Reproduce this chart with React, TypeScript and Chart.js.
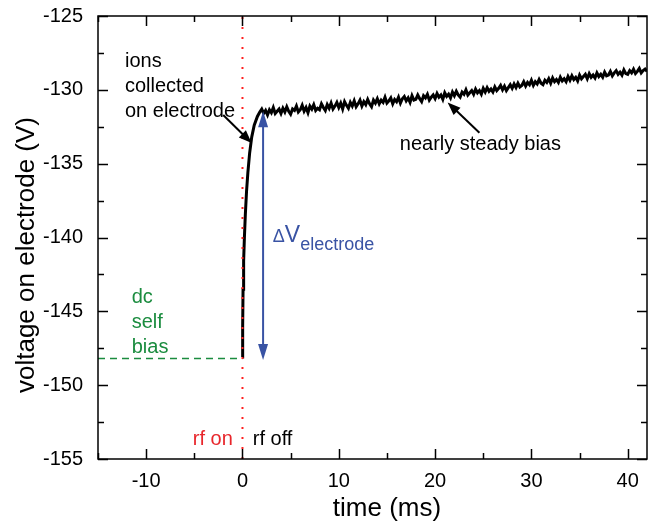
import { useEffect, useRef } from 'react';
import { Chart, registerables } from 'chart.js';

Chart.register(...registerables);

const FONT = '"Liberation Sans", Arial, Helvetica, sans-serif';

// Axis ranges and tick labels
const X_MIN = -15;
const X_MAX = 42;
const Y_MIN = -155;
const Y_MAX = -125;
const X_TICKS = [-10, 0, 10, 20, 30, 40];
const X_MINOR = [-15, -5, 5, 15, 25, 35];
const Y_TICKS = [-155, -150, -145, -140, -135, -130, -125];
const Y_MINOR = [-152.5, -147.5, -142.5, -137.5, -132.5, -127.5];

// Rising part right after rf off
const TIME_RISE = [0, 0.02, 0.06, 0.12, 0.2, 0.3, 0.42, 0.56, 0.74, 0.96, 1.22, 1.55, 1.8];
const VOLT_RISE = [-148.1, -146.0, -143.5, -141.6, -140.0, -138.4, -136.9, -135.6, -134.3, -133.2, -132.4, -131.8, -131.5];

// Nearly steady, noisy part
const TIME_STEADY = [
  2.0, 2.2, 2.4, 2.6, 2.8, 3.0, 3.2, 3.4, 3.6, 3.8,
  4.0, 4.2, 4.4, 4.6, 4.8, 5.0, 5.2, 5.4, 5.6, 5.8,
  6.0, 6.2, 6.4, 6.6, 6.8, 7.0, 7.2, 7.4, 7.6, 7.8,
  8.0, 8.2, 8.4, 8.6, 8.8, 9.0, 9.2, 9.4, 9.6, 9.8,
  10.0, 10.2, 10.4, 10.6, 10.8, 11.0, 11.2, 11.4, 11.6, 11.8,
  12.0, 12.2, 12.4, 12.6, 12.8, 13.0, 13.2, 13.4, 13.6, 13.8,
  14.0, 14.2, 14.4, 14.6, 14.8, 15.0, 15.2, 15.4, 15.6, 15.8,
  16.0, 16.2, 16.4, 16.6, 16.8, 17.0, 17.2, 17.4, 17.6, 17.8,
  18.0, 18.2, 18.4, 18.6, 18.8, 19.0, 19.2, 19.4, 19.6, 19.8,
  20.0, 20.2, 20.4, 20.6, 20.8, 21.0, 21.2, 21.4, 21.6, 21.8,
  22.0, 22.2, 22.4, 22.6, 22.8, 23.0, 23.2, 23.4, 23.6, 23.8,
  24.0, 24.2, 24.4, 24.6, 24.8, 25.0, 25.2, 25.4, 25.6, 25.8,
  26.0, 26.2, 26.4, 26.6, 26.8, 27.0, 27.2, 27.4, 27.6, 27.8,
  28.0, 28.2, 28.4, 28.6, 28.8, 29.0, 29.2, 29.4, 29.6, 29.8,
  30.0, 30.2, 30.4, 30.6, 30.8, 31.0, 31.2, 31.4, 31.6, 31.8,
  32.0, 32.2, 32.4, 32.6, 32.8, 33.0, 33.2, 33.4, 33.6, 33.8,
  34.0, 34.2, 34.4, 34.6, 34.8, 35.0, 35.2, 35.4, 35.6, 35.8,
  36.0, 36.2, 36.4, 36.6, 36.8, 37.0, 37.2, 37.4, 37.6, 37.8,
  38.0, 38.2, 38.4, 38.6, 38.8, 39.0, 39.2, 39.4, 39.6, 39.8,
  40.0, 40.2, 40.4, 40.6, 40.8, 41.0, 41.2, 41.4, 41.6, 41.8,
  42.0,
];
const VOLT_STEADY = [
  -131.3, -131.6, -131.4, -131.7, -131.35, -131.55, -131.2, -131.6, -131.45, -131.3,
  -131.6, -131.25, -131.5, -131.15, -131.45, -131.65, -131.3, -131.4, -131.1, -131.5,
  -131.35, -131.05, -131.45, -131.2, -131.55, -131.1, -131.3, -131.0, -131.4, -131.25,
  -131.35, -130.95, -131.2, -131.4, -131.0, -131.25, -130.9, -131.3, -131.1, -130.85,
  -131.2, -130.9, -131.3, -130.8, -131.05, -131.25, -130.85, -131.1, -130.75, -131.15,
  -130.95, -130.7, -131.1, -130.8, -131.0, -130.65, -130.95, -131.15, -130.7, -130.9,
  -130.6, -130.95, -130.7, -130.85, -130.5, -130.9, -130.75, -130.55, -130.95, -130.65,
  -130.8, -130.5, -130.9, -130.6, -130.45, -130.75, -130.55, -130.85, -130.4, -130.7,
  -130.65, -130.35, -130.6, -130.8, -130.4, -130.55, -130.3, -130.7, -130.5, -130.35,
  -130.6, -130.25, -130.5, -130.35, -130.65, -130.2, -130.45, -130.3, -130.55, -130.15,
  -130.4, -130.1, -130.35, -130.5, -130.15, -130.3, -130.0, -130.35, -130.2, -130.05,
  -130.3, -129.95, -130.2, -130.05, -130.3, -129.9, -130.15, -129.85, -130.1, -129.95,
  -130.15, -129.8, -130.05, -129.9, -129.7, -130.0, -129.75, -130.05, -129.85, -129.65,
  -129.9, -129.6, -129.85, -129.55, -129.8, -129.7, -129.45, -129.75, -129.5, -129.65,
  -129.35, -129.7, -129.45, -129.6, -129.3, -129.55, -129.65, -129.35, -129.5, -129.25,
  -129.55, -129.2, -129.45, -129.3, -129.5, -129.15, -129.4, -129.25, -129.45, -129.1,
  -129.35, -129.05, -129.3, -129.15, -129.4, -129.0, -129.25, -129.1, -128.95, -129.25,
  -128.9, -129.15, -129.0, -129.2, -128.85, -129.1, -128.95, -129.15, -128.8, -129.05,
  -129.0, -128.75, -129.05, -128.85, -128.7, -128.95, -128.8, -129.0, -128.65, -128.9,
  -128.95, -128.7, -128.85, -128.6, -128.9, -128.75, -128.55, -128.85, -128.7, -128.6,
  -128.75,
];

// dc self bias level and the rf switch time
const DC_BIAS = -148.2;
const RF_OFF_TIME = 0;
const DELTA_X = 2.14;
const DELTA_TOP = -131.45;
const DELTA_BOTTOM = -148.3;

const ALL_TIME = [...TIME_RISE, ...TIME_STEADY];
const ALL_VOLT = [...VOLT_RISE, ...VOLT_STEADY];
const traceData = ALL_TIME.map((t, i) => ({ x: t, y: ALL_VOLT[i] }));

function arrowHead(ctx: CanvasRenderingContext2D, x0: number, y0: number, x1: number, y1: number, len: number, half: number) {
  const ang = Math.atan2(y1 - y0, x1 - x0);
  ctx.beginPath();
  ctx.moveTo(x1, y1);
  ctx.lineTo(x1 - len * Math.cos(ang) + half * Math.sin(ang), y1 - len * Math.sin(ang) - half * Math.cos(ang));
  ctx.lineTo(x1 - len * Math.cos(ang) - half * Math.sin(ang), y1 - len * Math.sin(ang) + half * Math.cos(ang));
  ctx.closePath();
  ctx.fill();
}

const annotPlugin = {
  id: 'annot',
  afterDatasetsDraw(chart: any) {
    const { ctx, chartArea: a } = chart;
    const xs = chart.scales.x;
    const ys = chart.scales.y;
    const px = (v: number) => xs.getPixelForValue(v);
    const py = (v: number) => ys.getPixelForValue(v);
    ctx.save();

    // frame
    ctx.strokeStyle = '#000';
    ctx.lineWidth = 1.5;
    ctx.strokeRect(a.left, a.top, a.right - a.left, a.bottom - a.top);

    // inward ticks on all sides
    const major = 10;
    const minor = 6;
    ctx.lineWidth = 1.5;
    ctx.beginPath();
    const xt = (v: number, len: number) => {
      const p = Math.round(px(v)) + 0.5;
      ctx.moveTo(p, a.bottom);
      ctx.lineTo(p, a.bottom - len);
      ctx.moveTo(p, a.top);
      ctx.lineTo(p, a.top + len);
    };
    const yt = (v: number, len: number) => {
      const p = Math.round(py(v)) + 0.5;
      ctx.moveTo(a.left, p);
      ctx.lineTo(a.left + len, p);
      ctx.moveTo(a.right, p);
      ctx.lineTo(a.right - len, p);
    };
    X_TICKS.forEach((v) => xt(v, major));
    X_MINOR.forEach((v) => xt(v, minor));
    Y_TICKS.forEach((v) => yt(v, major));
    Y_MINOR.forEach((v) => yt(v, minor));
    ctx.stroke();

    // blue double arrow
    const bx = px(DELTA_X);
    const bt = py(DELTA_TOP);
    const bb = py(DELTA_BOTTOM);
    ctx.strokeStyle = '#3953a4';
    ctx.fillStyle = '#3953a4';
    ctx.lineWidth = 2;
    ctx.beginPath();
    ctx.moveTo(bx, bt + 10);
    ctx.lineTo(bx, bb - 10);
    ctx.stroke();
    arrowHead(ctx, bx, bb, bx, bt, 16, 5);
    arrowHead(ctx, bx, bt, bx, bb, 16, 5);

    // black annotation arrows
    ctx.strokeStyle = '#000';
    ctx.fillStyle = '#000';
    ctx.lineWidth = 2;
    const blackArrow = (x0: number, y0: number, x1: number, y1: number) => {
      const X0 = px(x0), Y0 = py(y0), X1 = px(x1), Y1 = py(y1);
      const ang = Math.atan2(Y1 - Y0, X1 - X0);
      ctx.beginPath();
      ctx.moveTo(X0, Y0);
      ctx.lineTo(X1 - 10 * Math.cos(ang), Y1 - 10 * Math.sin(ang));
      ctx.stroke();
      arrowHead(ctx, X0, Y0, X1, Y1, 13, 5);
    };
    blackArrow(-2.0, -131.7, 0.95, -133.6);
    blackArrow(24.6, -132.9, 21.3, -130.85);

    // texts
    ctx.textBaseline = 'alphabetic';
    ctx.textAlign = 'left';
    ctx.font = `20px ${FONT}`;
    ctx.fillStyle = '#000';
    ctx.fillText('ions', px(-12.2), py(-128.43));
    ctx.fillText('collected', px(-12.2), py(-130.13));
    ctx.fillText('on electrode', px(-12.2), py(-131.82));
    ctx.fillText('nearly steady bias', px(16.33), py(-134.07));
    ctx.fillText('rf off', px(1.07), py(-154.05));

    ctx.fillStyle = '#1b8c3f';
    ctx.fillText('dc', px(-11.5), py(-144.43));
    ctx.fillText('self', px(-11.5), py(-146.12));
    ctx.fillText('bias', px(-11.5), py(-147.82));

    ctx.fillStyle = '#e8262b';
    ctx.textAlign = 'right';
    ctx.fillText('rf on', px(-1.0), py(-154.05));

    ctx.textAlign = 'left';
    ctx.fillStyle = '#3953a4';
    const dx = px(3.15);
    const dy = py(-140.3);
    ctx.font = `18px ${FONT}`;
    ctx.fillText('\u0394', dx, dy);
    const dw = ctx.measureText('\u0394').width;
    ctx.font = `23px ${FONT}`;
    ctx.fillText('V', dx + dw, dy);
    const vw = ctx.measureText('V').width;
    ctx.font = `18px ${FONT}`;
    ctx.fillText('electrode', dx + dw + vw, dy + 8);

    // axis titles
    ctx.fillStyle = '#000';
    ctx.font = `26px ${FONT}`;
    ctx.textAlign = 'center';
    ctx.fillText('time (ms)', 387, 516);
    ctx.save();
    ctx.translate(27, 255);
    ctx.rotate(-Math.PI / 2);
    ctx.textBaseline = 'middle';
    ctx.fillText('voltage on electrode (V)', 0, 0);
    ctx.restore();

    ctx.restore();
  },
};

export default function App() {
  const ref = useRef<HTMLCanvasElement | null>(null);
  useEffect(() => {
    if (!ref.current) return;
    const chart = new Chart(ref.current, {
      type: 'line',
      data: {
        datasets: [
          {
            label: 'rf off',
            data: [
              { x: RF_OFF_TIME, y: Y_MIN },
              { x: RF_OFF_TIME, y: Y_MAX },
            ],
            borderColor: '#ff2020',
            borderWidth: 2,
            borderDash: [2, 8],
            pointRadius: 0,
          },
          {
            label: 'dc self bias',
            data: [
              { x: X_MIN, y: DC_BIAS },
              { x: RF_OFF_TIME, y: DC_BIAS },
            ],
            borderColor: '#1b8c3f',
            borderWidth: 1.5,
            borderDash: [7, 5],
            pointRadius: 0,
          },
          {
            label: 'voltage',
            data: traceData,
            borderColor: '#000',
            borderWidth: 3,
            pointRadius: 0,
            tension: 0,
          },
        ],
      },
      options: {
        responsive: false,
        animation: false,
        layout: { padding: { left: 0, top: 16, right: 7, bottom: 0 } },
        plugins: { legend: { display: false }, tooltip: { enabled: false } },
        scales: {
          x: {
            type: 'linear',
            min: X_MIN,
            max: X_MAX,
            grid: { display: false },
            border: { display: false },
            afterBuildTicks: (s: any) => {
              s.ticks = X_TICKS.map((v) => ({ value: v }));
            },
            afterFit: (s: any) => {
              s.height = 65;
              s.paddingLeft = 0;
              s.paddingRight = 0;
            },
            ticks: {
              padding: 2,
              color: '#000',
              font: { family: FONT, size: 20 },
              maxRotation: 0,
              autoSkip: false,
            },
          },
          y: {
            type: 'linear',
            min: Y_MIN,
            max: Y_MAX,
            grid: { display: false },
            border: { display: false },
            afterBuildTicks: (s: any) => {
              s.ticks = Y_TICKS.map((v) => ({ value: v }));
            },
            afterFit: (s: any) => {
              s.width = 98;
              s.paddingTop = 0;
              s.paddingBottom = 0;
            },
            ticks: {
              padding: 7,
              color: '#000',
              font: { family: FONT, size: 20 },
              autoSkip: false,
            },
          },
        },
      },
      plugins: [annotPlugin],
    });
    return () => chart.destroy();
  }, []);
  return (
    <div style={{ position: 'fixed', left: 0, top: 0, width: 654, height: 524, background: '#fff' }}>
      <canvas ref={ref} width={654} height={524} style={{ width: 654, height: 524 }} />
    </div>
  );
}
